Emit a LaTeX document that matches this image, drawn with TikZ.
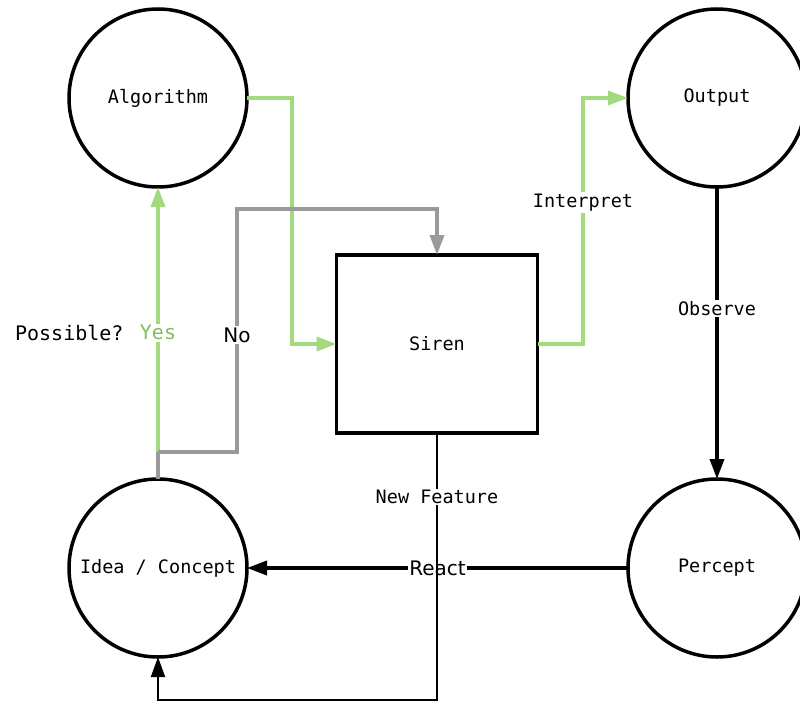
\documentclass[tikz,border=0pt]{standalone}
\usepackage{fontspec}
\setmainfont{DejaVu Sans}
\newfontfamily\monof{DejaVu Sans Mono}
\usetikzlibrary{arrows.meta}
\definecolor{lgreen}{HTML}{A3D97F}
\definecolor{tgreen}{HTML}{80BF5C}
\definecolor{lgray}{HTML}{9A9A9A}
\tikzset{
  circ/.style={circle,draw=black,line width=3.5pt,minimum size=178pt,inner sep=0pt,outer sep=0pt,font=\monof\fontsize{18.5}{20}\selectfont},
  boxnode/.style={rectangle,draw=black,line width=3.5pt,minimum width=201pt,minimum height=178pt,inner sep=0pt,outer sep=0pt,font=\monof\fontsize{18.5}{20}\selectfont},
  tip/.style={-{Triangle[length=20pt,width=14pt]}},
  gline/.style={draw=lgreen,line width=3.5pt,tip,color=lgreen},
  grline/.style={draw=lgray,line width=3.5pt,tip,color=lgray},
  bline/.style={draw=black,line width=3.5pt,tip},
  tline/.style={draw=black,line width=2pt,tip},
  mlab/.style={fill=white,inner sep=1.5pt,text=black,font=\monof\fontsize{18.5}{20}\selectfont},
  slab/.style={fill=white,inner sep=1.5pt,text=black,font=\fontsize{20}{22}\selectfont},
}
\begin{document}
\begin{tikzpicture}[x=1pt,y=-1pt]
\useasboundingbox (0,0) rectangle (800,704);
\clip (0,0) rectangle (800,704);
\node[circ] (alg) at (158,98) {Algorithm};
\node[circ] (out) at (717,98) {Output};
\node[circ] (idea) at (158,568) {Idea / Concept};
\node[circ] (perc) at (717,568) {Percept};
\node[boxnode] (siren) at (437,344) {Siren};
% helper coordinates
\coordinate (split) at (158,452);
\coordinate (nf) at (437,700);
% Algorithm -> Siren (green)
\draw[gline] (alg.east) -- (292,98) |- (siren.west);
% Siren -> Output (green), Interpret
\draw[gline] (siren.east) -- (583,344) -- node[pos=0.575,mlab] {Interpret} (583,98) -- (out.west);
% Output -> Percept, Observe
\draw[bline] (out.south) -- node[pos=0.415,mlab] {Observe} (perc.north);
% Percept -> Idea, React
\draw[bline] (perc.west) -- node[pos=0.5,slab] {React} (idea.east);
% Siren -> Idea via bottom, New Feature
\draw[tline] (siren.south) -- node[pos=0.24,mlab] {New Feature} (nf) -| (idea.south);
% Idea -> split (gray stub)
\draw[draw=lgray,line width=3.5pt] (idea.north) -- (split);
% Yes branch (green)
\draw[gline] (split) -- node[pos=0.45,fill=white,inner sep=1.5pt,text=tgreen,font=\monof\fontsize{20}{22}\selectfont] {Yes} (alg.south);
% No branch (gray)
\draw[grline] (split) -- (237,452) -- node[pos=0.48,slab] {No} (237,209) -| (siren.north);
\node[font=\monof\fontsize{20}{22}\selectfont,anchor=east] (poss) at (127,333) {Possible?};
\end{tikzpicture}
\end{document}
